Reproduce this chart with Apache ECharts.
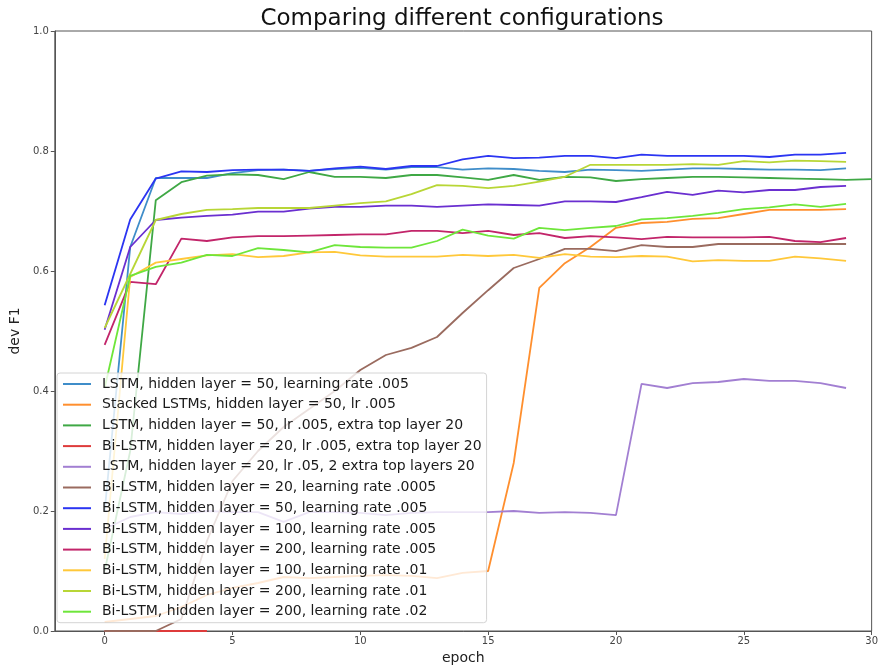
<!DOCTYPE html>
<html>
<head>
<meta charset="utf-8">
<script src="https://cdn.jsdelivr.net/npm/echarts@6/dist/echarts.min.js"></script>
<style>
html,body{margin:0;padding:0;background:#fff;}
#c{width:881px;height:671px;}
</style>
</head>
<body>
<div id="c"></div>
<script>
const seriesNames = [
  'LSTM, hidden layer = 50, learning rate .005',
  'Stacked LSTMs, hidden layer = 50, lr .005',
  'LSTM, hidden layer = 50, lr .005, extra top layer 20',
  'Bi-LSTM, hidden layer = 20, lr .005, extra top layer 20',
  'LSTM, hidden layer = 20, lr .05, 2 extra top layers 20',
  'Bi-LSTM, hidden layer = 20, learning rate .0005',
  'Bi-LSTM, hidden layer = 50, learning rate .005',
  'Bi-LSTM, hidden layer = 100, learning rate .005',
  'Bi-LSTM, hidden layer = 200, learning rate .005',
  'Bi-LSTM, hidden layer = 100, learning rate .01',
  'Bi-LSTM, hidden layer = 200, learning rate .01',
  'Bi-LSTM, hidden layer = 200, learning rate .02'
];
const seriesColors = ['#3f8dc9','#ff8f2e','#3fa845','#de3b3b','#a27fd2','#9a6b5f',
  '#2b35f2','#6a2fd0','#c2256a','#ffc83a','#b8d636','#6ee63a'];

const lstm50 = [0.20,0.64,0.755,0.755,0.755,0.763,0.768,0.769,0.767,0.770,0.772,0.769,0.773,0.773,0.769,0.771,0.770,0.767,0.765,0.769,0.768,0.767,0.769,0.771,0.771,0.770,0.769,0.769,0.768,0.771];
const stacked50 = [0.015,0.02,0.025,0.04,0.06,0.072,0.08,0.09,0.088,0.09,0.092,0.093,0.092,0.088,0.097,0.10,0.28,0.572,0.613,0.64,0.672,0.68,0.682,0.687,0.688,0.695,0.702,0.702,0.702,0.703];
const lstm50Top = [0.10,0.30,0.718,0.748,0.759,0.761,0.760,0.753,0.765,0.757,0.757,0.755,0.760,0.760,0.756,0.752,0.760,0.752,0.757,0.756,0.750,0.753,0.755,0.757,0.757,0.756,0.755,0.754,0.753,0.752,0.753];
const bi20Top = [0,0,0,0,0];
const lstm20Top2 = [0.17,0.19,0.198,0.195,0.20,0.198,0.198,0.182,0.198,0.198,0.197,0.193,0.197,0.198,0.198,0.198,0.20,0.197,0.198,0.197,0.193,0.412,0.405,0.413,0.415,0.42,0.417,0.417,0.413,0.405];
const bi20 = [0,0,0,0.02,0.15,0.25,0.30,0.34,0.37,0.40,0.435,0.46,0.472,0.49,0.53,0.568,0.605,0.62,0.637,0.637,0.633,0.643,0.64,0.64,0.645,0.645,0.645,0.645,0.645,0.645];
const bi50 = [0.543,0.686,0.754,0.766,0.765,0.768,0.769,0.769,0.767,0.771,0.774,0.770,0.775,0.775,0.786,0.792,0.788,0.789,0.792,0.792,0.788,0.794,0.792,0.792,0.792,0.792,0.790,0.794,0.794,0.797];
const bi100 = [0.502,0.64,0.685,0.689,0.692,0.694,0.699,0.699,0.704,0.707,0.707,0.709,0.709,0.707,0.709,0.711,0.710,0.709,0.716,0.716,0.715,0.723,0.732,0.727,0.734,0.731,0.735,0.735,0.740,0.742];
const bi200 = [0.477,0.582,0.578,0.654,0.65,0.656,0.658,0.658,0.659,0.66,0.661,0.661,0.667,0.667,0.663,0.667,0.66,0.663,0.655,0.658,0.656,0.653,0.657,0.656,0.656,0.656,0.657,0.650,0.648,0.655];
const bi100lr01 = [0.12,0.59,0.614,0.62,0.626,0.628,0.623,0.625,0.631,0.632,0.626,0.624,0.624,0.624,0.627,0.625,0.627,0.622,0.628,0.624,0.623,0.625,0.624,0.616,0.618,0.617,0.617,0.624,0.621,0.617];
const bi200lr01 = [0.505,0.595,0.685,0.695,0.702,0.703,0.705,0.705,0.705,0.709,0.713,0.716,0.728,0.743,0.742,0.738,0.742,0.749,0.757,0.777,0.777,0.777,0.777,0.778,0.777,0.783,0.781,0.784,0.783,0.782];
const bi200lr02 = [0.405,0.592,0.607,0.614,0.627,0.625,0.638,0.635,0.631,0.643,0.64,0.639,0.639,0.65,0.669,0.659,0.654,0.672,0.668,0.672,0.675,0.686,0.688,0.692,0.697,0.703,0.706,0.711,0.707,0.712];

const allSeries = [lstm50, stacked50, lstm50Top, bi20Top, lstm20Top2, bi20, bi50, bi100, bi200, bi100lr01, bi200lr01, bi200lr02];
const xTicks = [0,5,10,15,20,25,30];
const yTicks = [0,0.2,0.4,0.6,0.8,1.0];

const chart = echarts.init(document.getElementById('c'), null, {renderer:'canvas'});
const font = 'DejaVu Sans';
chart.setOption({
  animation:false,
  backgroundColor:'#fff',
  color: seriesColors,
  title:{
    text:'Comparing different configurations',
    left:457, top:3, textAlign:'center',
    textStyle:{fontFamily:font,fontSize:23,fontWeight:'normal',color:'#111'}
  },
  grid:{left:50,right:7,top:31,bottom:40,show:true,borderColor:'#555',borderWidth:1,backgroundColor:'transparent'},
  legend:{
    orient:'vertical', left:57, top:373,
    data: seriesNames,
    icon:'rect', itemWidth:28, itemHeight:2, itemGap:4.7,
    padding:[3,5,3,6],
    backgroundColor:'rgba(255,255,255,0.8)', borderColor:'#d4d4d4', borderWidth:1, borderRadius:3,
    textStyle:{fontFamily:font,fontSize:14,color:'#1a1a1a',lineHeight:16, padding:[0,0,0,6]},
    selectedMode:false
  },
  xAxis:{
    type:'value', min:-1.95, max:30,
    name:'epoch', nameLocation:'middle', nameGap:20,
    nameTextStyle:{fontFamily:font,fontSize:14,color:'#222'},
    axisLine:{show:true,onZero:false,lineStyle:{color:'#555',width:1}},
    axisTick:{show:true,length:4,lineStyle:{color:'#555'},customValues:xTicks},
    axisLabel:{fontFamily:font,fontSize:10,color:'#444',margin:5,customValues:xTicks},
    splitLine:{show:false}
  },
  yAxis:{
    type:'value', min:0, max:1, interval:0.2,
    name:'dev F1', nameLocation:'middle', nameGap:25,
    nameTextStyle:{fontFamily:font,fontSize:14,color:'#222'},
    axisLine:{show:true,onZero:false,lineStyle:{color:'#555',width:1}},
    axisTick:{show:true,length:4,lineStyle:{color:'#555'}},
    axisLabel:{fontFamily:font,fontSize:10,color:'#444',margin:6,formatter:v=>v.toFixed(1)},
    splitLine:{show:false}
  },
  series: allSeries.map((arr,k)=>({
    name: seriesNames[k],
    type:'line',
    symbol:'none',
    showSymbol:false,
    lineStyle:{width:1.8,color:seriesColors[k]},
    itemStyle:{color:seriesColors[k]},
    data: arr.map((v,i)=>[i,v])
  }))
});
</script>
</body>
</html>
